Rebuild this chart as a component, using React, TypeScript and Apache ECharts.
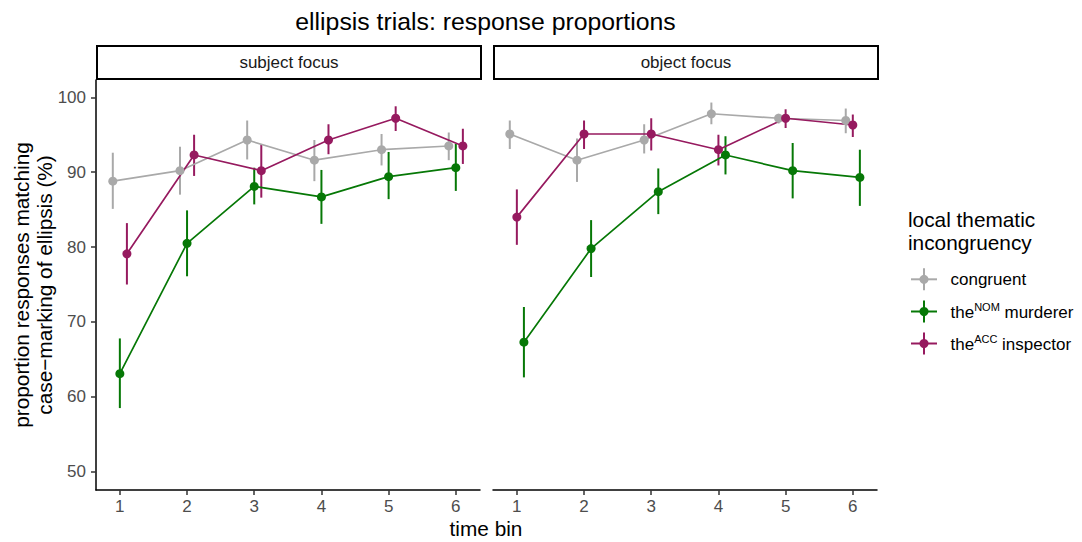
import React, { useEffect, useRef } from "react";
import * as echarts from "echarts";

const timeBins = [1, 2, 3, 4, 5, 6];
const yTicks = [50, 60, 70, 80, 90, 100];
const panels = ["subject focus", "object focus"];
const groupNames = ["congruent", "theNOM murderer", "theACC inspector"];

// subject focus
const congruentSubj = [88.8, 90.2, 94.3, 91.6, 93.0, 93.5];
const congruentSubjLo = [85.1, 87.0, 91.7, 88.8, 90.9, 91.6];
const congruentSubjHi = [92.6, 93.4, 96.9, 94.3, 95.1, 95.3];
const nomSubj = [63.1, 80.5, 88.1, 86.7, 89.4, 90.6];
const nomSubjLo = [58.5, 76.1, 85.7, 83.1, 86.4, 87.5];
const nomSubjHi = [67.8, 84.9, 90.6, 90.3, 92.7, 93.8];
const accSubj = [79.1, 92.3, 90.2, 94.3, 97.2, 93.5];
const accSubjLo = [75.0, 89.5, 86.6, 92.4, 95.5, 91.1];
const accSubjHi = [83.2, 95.0, 93.7, 96.4, 98.8, 95.8];

// object focus
const congruentObj = [95.1, 91.6, 94.3, 97.8, 97.2, 96.9];
const congruentObjLo = [93.1, 88.7, 92.5, 96.4, 96.5, 95.2];
const congruentObjHi = [96.9, 94.5, 96.4, 99.3, 97.8, 98.5];
const nomObj = [67.3, 79.8, 87.4, 92.3, 90.2, 89.3];
const nomObjLo = [62.6, 76.0, 84.4, 89.7, 86.5, 85.5];
const nomObjHi = [72.0, 83.6, 90.5, 94.8, 93.9, 93.0];
const accObj = [84.0, 95.1, 95.1, 93.0, 97.2, 96.3];
const accObjLo = [80.3, 93.1, 92.9, 90.9, 95.9, 94.7];
const accObjHi = [87.7, 96.9, 97.2, 95.0, 98.4, 97.7];

const GREY = "#a9a9a9";
const GREEN = "#067806";
const MAGENTA = "#961a5f";
const FONT = "'Liberation Sans', Arial, Helvetica, sans-serif";
const SMALL = 17;
const MEDIUM = 20.8;

export default function App() {
  const ref = useRef<HTMLDivElement>(null);
  useEffect(() => {
    if (!ref.current) return;
    const chart = echarts.init(ref.current, null, { renderer: "svg" });

    const groups = [
      {
        name: groupNames[0], color: GREY,
        panels: [
          { v: congruentSubj, lo: congruentSubjLo, hi: congruentSubjHi, off: -0.105 },
          { v: congruentObj, lo: congruentObjLo, hi: congruentObjHi, off: -0.105 },
        ],
      },
      {
        name: groupNames[1], color: GREEN,
        panels: [
          { v: nomSubj, lo: nomSubjLo, hi: nomSubjHi, off: 0 },
          { v: nomObj, lo: nomObjLo, hi: nomObjHi, off: 0.105 },
        ],
      },
      {
        name: groupNames[2], color: MAGENTA,
        panels: [
          { v: accSubj, lo: accSubjLo, hi: accSubjHi, off: 0.105 },
          { v: accObj, lo: accObjLo, hi: accObjHi, off: 0 },
        ],
      },
    ];

    const series: any[] = [];
    groups.forEach((g) => {
      g.panels.forEach((p, pi) => {
        series.push({
          type: "custom",
          name: g.name + " err " + pi,
          xAxisIndex: pi,
          yAxisIndex: pi,
          data: timeBins.map((t, i) => [t + p.off, p.lo[i], p.hi[i]]),
          renderItem: (params: any, api: any) => {
            const x = api.value(0);
            const a = api.coord([x, api.value(1)]);
            const b = api.coord([x, api.value(2)]);
            return {
              type: "line",
              shape: { x1: a[0], y1: a[1], x2: b[0], y2: b[1] },
              style: { stroke: g.color, lineWidth: 2 },
            };
          },
          silent: true,
          z: 2,
        });
        series.push({
          type: "line",
          name: g.name + " " + pi,
          xAxisIndex: pi,
          yAxisIndex: pi,
          data: timeBins.map((t, i) => [t + p.off, p.v[i]]),
          symbol: "circle",
          symbolSize: 9,
          showSymbol: true,
          lineStyle: { color: g.color, width: 1.7 },
          itemStyle: { color: g.color },
          silent: true,
          z: 3,
        });
      });
    });

    const gridLefts = [96, 493];
    const xMin = 0.645;
    const xMax = 6.36;
    const yMin = 47.56;
    const yMax = 102.31;

    const graphic: any[] = [];
    panels.forEach((name, i) => {
      graphic.push({
        type: "rect",
        shape: { x: gridLefts[i] + 1, y: 46, width: 384, height: 33 },
        style: { fill: "#ffffff", stroke: "#000000", lineWidth: 2 },
      });
      graphic.push({
        type: "text",
        x: gridLefts[i] + 1 + 192,
        y: 62.5,
        style: { text: name, fill: "#1a1a1a", fontSize: SMALL, fontFamily: FONT, align: "center", verticalAlign: "middle" },
      });
    });
    graphic.push({
      type: "text", x: 485.5, y: 21,
      style: { text: "ellipsis trials: response proportions", fill: "#000", fontSize: 24.8, fontFamily: FONT, align: "center", verticalAlign: "middle" },
    });
    graphic.push({
      type: "text", x: 486, y: 528,
      style: { text: "time bin", fill: "#000", fontSize: MEDIUM, fontFamily: FONT, align: "center", verticalAlign: "middle" },
    });
    graphic.push({
      type: "text", x: 33, y: 285, rotation: Math.PI / 2,
      style: {
        text: "proportion responses matching\ncase\u2212marking of ellipsis (%)",
        fill: "#000", fontSize: MEDIUM, lineHeight: 22.7, fontFamily: FONT, align: "center", verticalAlign: "middle",
      },
    });
    graphic.push({
      type: "text", x: 908, y: 231,
      style: {
        text: "local thematic\nincongruency",
        fill: "#000", fontSize: MEDIUM, lineHeight: 22.7, fontFamily: FONT, align: "left", verticalAlign: "middle",
      },
    });
    const legendY = [279.3, 311.5, 343.5];
    const legendColors = [GREY, GREEN, MAGENTA];
    const legendTexts = [
      "{a|congruent}",
      "{a|the}{s|NOM}{a| murderer}",
      "{a|the}{s|ACC}{a| inspector}",
    ];
    legendY.forEach((cy, i) => {
      graphic.push({
        type: "line",
        shape: { x1: 911, y1: cy, x2: 937, y2: cy },
        style: { stroke: legendColors[i], lineWidth: 2 },
      });
      graphic.push({
        type: "line",
        shape: { x1: 924, y1: cy - 11, x2: 924, y2: cy + 11 },
        style: { stroke: legendColors[i], lineWidth: 2 },
      });
      graphic.push({
        type: "circle",
        shape: { cx: 924, cy, r: 4.5 },
        style: { fill: legendColors[i] },
      });
      graphic.push({
        type: "text", x: 950.5, y: cy + 0.5,
        style: {
          text: legendTexts[i],
          fontFamily: FONT,
          verticalAlign: "middle",
          align: "left",
          rich: {
            a: { fontSize: SMALL, lineHeight: 22, fill: "#000", fontFamily: FONT },
            s: { fontSize: 11, lineHeight: 10, fill: "#000", fontFamily: FONT, verticalAlign: "top" },
          },
        },
      });
    });

    const option: any = {
      animation: false,
      backgroundColor: "#ffffff",
      grid: gridLefts.map((l) => ({ left: l, top: 80, width: 384, height: 410, containLabel: false })),
      xAxis: [0, 1].map((i) => ({
        type: "value",
        gridIndex: i,
        min: xMin,
        max: xMax,
        axisLine: { show: true, onZero: false, lineStyle: { color: "#000", width: 1.5 } },
        axisTick: { show: true, length: 5, customValues: timeBins, lineStyle: { color: "#333", width: 1.5 } },
        axisLabel: { show: true, customValues: timeBins, margin: 8, color: "#4d4d4d", fontSize: SMALL, fontFamily: FONT },
        splitLine: { show: false },
      })),
      yAxis: [0, 1].map((i) => ({
        type: "value",
        gridIndex: i,
        min: yMin,
        max: yMax,
        axisLine: { show: i === 0, onZero: false, lineStyle: { color: "#000", width: 1.5 } },
        axisTick: { show: i === 0, length: 5, customValues: yTicks, lineStyle: { color: "#333", width: 1.5 } },
        axisLabel: { show: i === 0, customValues: yTicks, margin: 10, color: "#4d4d4d", fontSize: SMALL, fontFamily: FONT },
        splitLine: { show: false },
      })),
      series,
      graphic,
    };
    chart.setOption(option);
    return () => chart.dispose();
  }, []);
  return (
    <div
      ref={ref}
      style={{ position: "fixed", left: 0, top: 0, width: 1082, height: 542, background: "#fff" }}
    />
  );
}
